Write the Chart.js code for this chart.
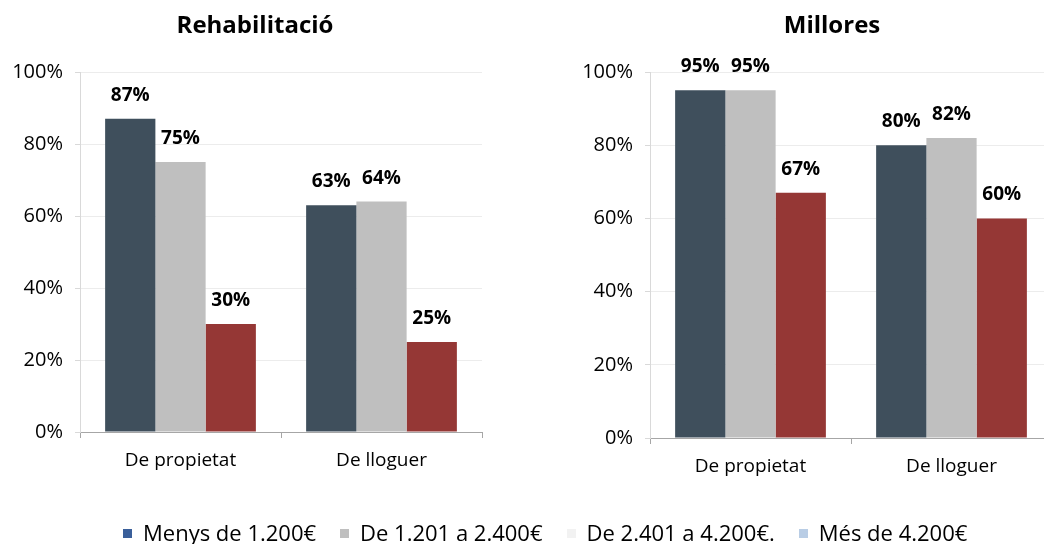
<!DOCTYPE html>
<html><head><meta charset="utf-8">
<script src="https://cdn.jsdelivr.net/npm/chart.js@4.4.1/dist/chart.umd.min.js"></script>
<style>
html,body{margin:0;padding:0;width:1044px;height:544px;overflow:hidden;background:#fff;}
#c1{position:absolute;left:0;top:0;}
#c2{position:absolute;left:520px;top:0;}
#legend{position:absolute;left:123px;top:520px;height:24px;display:flex;align-items:center;white-space:nowrap;
 font-family:"Open Sans",sans-serif;font-size:22px;line-height:22px;color:#000;}
#legend .it{display:flex;align-items:center;margin-right:24px;}
#legend .sq{width:9px;height:9px;margin-right:11px;margin-top:2px;}
</style></head>
<body>
<canvas id="c1" width="520" height="544"></canvas>
<canvas id="c2" width="540" height="544"></canvas>
<div id="legend"></div>
<script>
// ---- data ----
const categories = ["De propietat", "De lloguer"];
const seriesNames = ["Menys de 1.200€", "De 1.201 a 2.400€", "De 2.401 a 4.200€.", "Més de 4.200€"];
const rehabMenys = [87, 63];
const rehabMig = [75, 64];
const rehabAlt = [30, 25];
const millorMenys = [95, 80];
const millorMig = [95, 82];
const millorAlt = [67, 60];
const yTicks = [0, 20, 40, 60, 80, 100];
const titles = ["Rehabilitació", "Millores"];

// ---- styles ----
const barColors = ["#3f4f5c", "#bfbfbf", "#953735"];
const legendColors = ["#3a5f9a", "#bfbfbf", "#f2f2f2", "#b9cde5"];
const FONT = '"Open Sans", sans-serif';

const valueLabels = {
  id: 'valueLabels',
  afterDatasetsDraw(chart) {
    const ctx = chart.ctx;
    ctx.save();
    ctx.font = 'bold 19px ' + FONT;
    ctx.fillStyle = '#000';
    ctx.textAlign = 'center';
    ctx.textBaseline = 'alphabetic';
    chart.data.datasets.forEach((ds, i) => {
      chart.getDatasetMeta(i).data.forEach((bar, j) => {
        ctx.fillText(Math.round(ds.data[j]) + '%', bar.x, bar.y - 18);
      });
    });
    ctx.restore();
  }
};
const panelTitle = {
  id: 'panelTitle',
  afterDraw(chart, args, opts) {
    const ctx = chart.ctx;
    ctx.save();
    ctx.font = 'bold 24px ' + FONT;
    ctx.fillStyle = '#000';
    ctx.textAlign = 'center';
    ctx.textBaseline = 'alphabetic';
    ctx.fillText(opts.text, opts.x, opts.y);
    ctx.restore();
  }
};

function makeChart(id, title, titleX, data, yWidth, xHeight, padTop, padRight) {
  return new Chart(document.getElementById(id), {
    type: 'bar',
    data: {
      labels: categories,
      datasets: data.map((d, i) => ({
        label: seriesNames[i], data: d, backgroundColor: barColors[i],
        borderWidth: 0, barPercentage: 1.0, categoryPercentage: 0.75
      }))
    },
    options: {
      responsive: false, animation: false,
      layout: { padding: { top: padTop, right: padRight, left: 0, bottom: 0 } },
      plugins: {
        legend: { display: false }, tooltip: { enabled: false }, title: { display: false },
        panelTitle: { text: title, x: titleX, y: 33 }
      },
      scales: {
        x: {
          grid: { offset: true, drawOnChartArea: false, tickLength: 6, color: '#a6a6a6' },
          border: { color: '#a6a6a6', width: 1 },
          ticks: { color: '#000', font: { family: FONT, size: 19 }, padding: 11 },
          afterFit: s => { s.height = xHeight; }
        },
        y: {
          min: 0, max: 100,
          afterBuildTicks: s => { s.ticks = yTicks.map(v => ({ value: v })); },
          grid: { color: '#ececec', tickColor: '#d9d9d9', tickLength: 5 },
          border: { color: '#d9d9d9', width: 1 },
          ticks: { color: '#000', font: { family: FONT, size: 20 }, padding: 12, callback: v => v + '%' },
          afterFit: s => { s.width = yWidth; }
        }
      }
    },
    plugins: [valueLabels, panelTitle]
  });
}

makeChart('c1', titles[0], 255, [rehabMenys, rehabMig, rehabAlt], 80, 112, 72, 38);
makeChart('c2', titles[1], 312, [millorMenys, millorMig, millorAlt], 130, 106, 72, 8);

const lg = document.getElementById('legend');
seriesNames.forEach((n, i) => {
  const it = document.createElement('div'); it.className = 'it';
  const sq = document.createElement('div'); sq.className = 'sq'; sq.style.background = legendColors[i];
  const tx = document.createElement('span'); tx.textContent = n;
  it.appendChild(sq); it.appendChild(tx); lg.appendChild(it);
});
</script>
</body></html>
